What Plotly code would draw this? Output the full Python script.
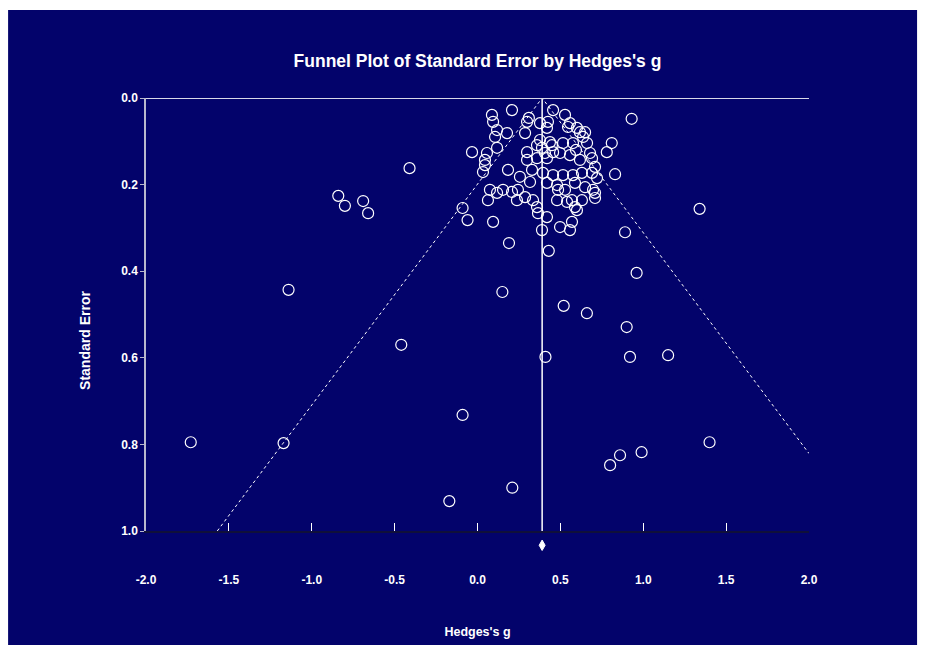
import plotly.graph_objects as go

# ---- data (Hedges's g, standard error) ----
hedges_g = [
    -1.73, -1.17, -1.14, -0.84, -0.80, -0.69, -0.66, -0.41, -0.46, -0.09, -0.06, -0.09, -0.17,
    0.21, 0.15, 0.19, 0.41, 0.43, 0.52, 0.66, 0.90, 0.92, 0.89, 0.96, 1.15, 1.34, 1.40, 0.99,
    0.86, 0.80, 0.93, 0.83, 0.81, 0.78,
    0.208, 0.087, 0.094, 0.118, 0.106, 0.178, 0.118, 0.057, 0.045, 0.045, 0.033, -0.033,
    0.299, 0.287, 0.299, 0.377, 0.425, 0.456, 0.528, 0.558, 0.618, 0.649, 0.661, 0.576,
    0.516, 0.449, 0.389, 0.359, 0.456, 0.498, 0.558, 0.618, 0.691, 0.691, 0.630, 0.576,
    0.516, 0.456, 0.395, 0.329, 0.256, 0.184, 0.419, 0.359, 0.299, 0.317, 0.419, 0.480,
    0.528, 0.588, 0.649, 0.697, 0.721, 0.709, 0.075, 0.118, 0.154, 0.208, 0.244, 0.287,
    0.238, 0.335, 0.359, 0.365, 0.419, 0.486, 0.480, 0.540, 0.570, 0.588, 0.630, 0.063,
    0.094, 0.498, 0.558, 0.389, 0.709, 0.600, 0.570, 0.546, 0.600, 0.419, 0.437, 0.407,
    0.679, 0.709, 0.637, 0.594, 0.31, 0.377,
]
std_err = [
    0.795, 0.797, 0.443, 0.226, 0.249, 0.238, 0.266, 0.162, 0.570, 0.254, 0.282, 0.732, 0.931,
    0.900, 0.448, 0.335, 0.598, 0.353, 0.480, 0.497, 0.529, 0.598, 0.310, 0.404, 0.594, 0.256,
    0.795, 0.818, 0.825, 0.848, 0.048, 0.176, 0.104, 0.125,
    0.028, 0.039, 0.055, 0.074, 0.090, 0.081, 0.115, 0.127, 0.143, 0.155, 0.171, 0.125,
    0.055, 0.081, 0.125, 0.097, 0.055, 0.028, 0.039, 0.058, 0.079, 0.079, 0.104, 0.104,
    0.104, 0.109, 0.115, 0.109, 0.125, 0.127, 0.132, 0.143, 0.139, 0.173, 0.173, 0.178,
    0.178, 0.178, 0.173, 0.166, 0.182, 0.166, 0.139, 0.139, 0.143, 0.194, 0.196, 0.201,
    0.212, 0.196, 0.206, 0.212, 0.185, 0.219, 0.212, 0.219, 0.212, 0.217, 0.212, 0.229,
    0.236, 0.236, 0.252, 0.266, 0.275, 0.212, 0.236, 0.240, 0.236, 0.252, 0.236, 0.236,
    0.286, 0.298, 0.305, 0.305, 0.231, 0.259, 0.286, 0.067, 0.069, 0.069, 0.102, 0.127,
    0.127, 0.159, 0.090, 0.120, 0.046, 0.058,
]

mean_g = 0.39
funnel_g = [-1.57, 0.39, 2.0]
funnel_se = [1.0, 0.0, 0.821]

x_ticks = [-2.0, -1.5, -1.0, -0.5, 0.0, 0.5, 1.0, 1.5, 2.0]
x_tick_text = ["-2.0", "-1.5", "-1.0", "-0.5", "0.0", "0.5", "1.0", "1.5", "2.0"]
y_ticks = [0.0, 0.2, 0.4, 0.6, 0.8, 1.0]
y_tick_text = ["0.0", "0.2", "0.4", "0.6", "0.8", "1.0"]

NAVY = "#03036b"
FONT = "Liberation Sans"

fig = go.Figure()

fig.add_trace(go.Scatter(x=funnel_g, y=funnel_se, mode="lines",
                         line=dict(color="white", width=1, dash="dot"),
                         hoverinfo="skip", showlegend=False))
fig.add_trace(go.Scatter(x=[mean_g, mean_g], y=[0.0, 1.0], mode="lines",
                         line=dict(color="white", width=1.5),
                         hoverinfo="skip", showlegend=False))
fig.add_trace(go.Scatter(x=hedges_g, y=std_err, mode="markers",
                         marker=dict(symbol="circle-open", size=11,
                                     line=dict(color="white", width=1.2), color="white"),
                         showlegend=False))
fig.add_trace(go.Scatter(x=[-2.0, 2.0], y=[0.0, 0.0], mode="lines",
                         line=dict(color="#d8d8e8", width=2), cliponaxis=False,
                         hoverinfo="skip", showlegend=False))

# summary diamond below the axis (mean effect)
dw, dh, dc = 0.018, 0.012, -0.033
diamond_path = (f"M {mean_g},{dc + dh} L {mean_g + dw},{dc} "
                f"L {mean_g},{dc - dh} L {mean_g - dw},{dc} Z")

fig.update_layout(
    width=927, height=650,
    margin=dict(l=138, r=126, t=90, b=127),
    paper_bgcolor="white",
    plot_bgcolor=NAVY,
    shapes=[
        dict(type="rect", xref="paper", yref="paper",
             x0=-0.208, x1=1.163, y0=-0.263, y1=1.203,
             fillcolor=NAVY, line=dict(width=0), layer="below"),
        dict(type="path", xref="x", yref="paper", path=diamond_path,
             fillcolor="white", line=dict(color="white", width=1)),
    ],
    annotations=[
        dict(text="Standard Error", xref="paper", yref="paper",
             x=-0.092, y=0.439, xanchor="center", yanchor="middle",
             textangle=-90, showarrow=False,
             font=dict(family=FONT, size=14, color="white", weight="bold")),
    ],
    title=dict(text="Funnel Plot of Standard Error by Hedges's g",
               x=0.5, xref="paper", xanchor="center",
               y=1.0 - 53 / 650, yanchor="middle",
               font=dict(family=FONT, size=17.5, color="white", weight="bold")),
    xaxis=dict(range=[-2.0, 2.0], tickvals=x_ticks, ticktext=x_tick_text,
               showgrid=False, zeroline=False, showline=True,
               linecolor="#10103a", linewidth=2,
               ticks="inside", ticklen=8, tickcolor="white",
               ticklabelstandoff=37,
               tickfont=dict(family=FONT, size=12, color="white", weight="bold"),
               title=dict(text="Hedges's g", standoff=41,
                          font=dict(family=FONT, size=12.5, color="white", weight="bold"))),
    yaxis=dict(range=[1.0, 0.0], tickvals=y_ticks, ticktext=y_tick_text,
               showgrid=False, zeroline=False, showline=True,
               linecolor="#b8b8cc", linewidth=1.5,
               ticks="outside", ticklen=4, tickcolor="#b8b8cc",
               tickfont=dict(family=FONT, size=12, color="white", weight="bold")),
)

fig.write_html("out.html")
